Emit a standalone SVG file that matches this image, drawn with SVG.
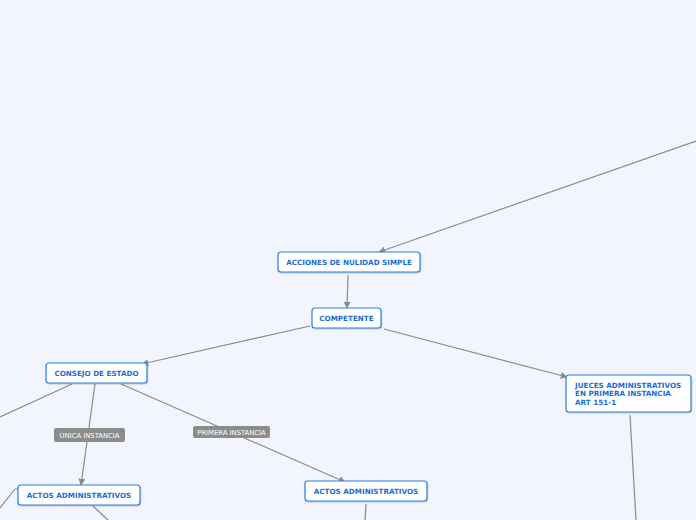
<svg xmlns="http://www.w3.org/2000/svg" width="696" height="520" viewBox="0 0 696 520">
<style>
.bg{fill:#f2f5fe}
.n rect{fill:#fff;stroke:#2b7fe0;stroke-width:1.2}
.n text{font-family:"DejaVu Sans",Verdana,sans-serif;font-weight:bold;font-size:7.2px;fill:#1a6fd4}
.c path{fill:none;stroke:#8a8a92;stroke-width:1.2}
.l rect{fill:#8c8c8c}
.l text{font-family:"DejaVu Sans",Verdana,sans-serif;font-size:6.8px;fill:#fff}
</style>
<defs>
<marker id="a" viewBox="0 0 10 10" refX="9" refY="5" markerWidth="7" markerHeight="7" markerUnits="userSpaceOnUse" orient="auto">
<path d="M0,0L10,5L0,10z" fill="#8a8a92"/>
</marker>
<filter id="s" x="-10%" y="-20%" width="120%" height="150%">
<feDropShadow dx="0.5" dy="1" stdDeviation="0.6" flood-color="#000" flood-opacity="0.2"/>
</filter>
</defs>
<rect class="bg" width="696" height="520"/>
<g class="c">
<path d="M696,141L379,252" marker-end="url(#a)"/>
<path d="M348,275L347,308" marker-end="url(#a)"/>
<path d="M310,326L142,364" marker-end="url(#a)"/>
<path d="M384,329L567,377" marker-end="url(#a)"/>
<path d="M72,384L0,417"/>
<path d="M95,384L81,485" marker-end="url(#a)"/>
<path d="M121,384L345,482" marker-end="url(#a)"/>
<path d="M18,489L15,489L0,508"/>
<path d="M93,506L108,520"/>
<path d="M366,504L365,520"/>
<path d="M630,415L636,520"/>
</g>
<g id="lbl1" class="l"><rect x="54" y="428" width="71" height="14" rx="2"/><text x="89.5" y="438" text-anchor="middle">ÚNICA INSTANCIA</text></g>
<g id="lbl2" class="l"><rect x="193" y="426" width="77" height="12" rx="2"/><text x="231.5" y="435" text-anchor="middle">PRIMERA INSTANCIA</text></g>
<g id="n1" class="n"><rect x="278" y="252" width="142" height="20" rx="3" filter="url(#s)"/><text x="349" y="264.5" text-anchor="middle">ACCIONES DE NULIDAD SIMPLE</text></g>
<g id="n2" class="n"><rect x="312" y="308" width="69" height="20" rx="3" filter="url(#s)"/><text x="346.5" y="320.5" text-anchor="middle">COMPETENTE</text></g>
<g id="n3" class="n"><rect x="46" y="363" width="101" height="20" rx="3" filter="url(#s)"/><text x="96.5" y="375.5" text-anchor="middle">CONSEJO DE ESTADO</text></g>
<g id="n4" class="n"><rect x="566" y="375" width="125" height="37" rx="3" filter="url(#s)"/><text x="575" y="387.5">JUECES ADMINISTRATIVOS</text><text x="575" y="396">EN PRIMERA INSTANCIA</text><text x="575" y="404.5">ART 151-1</text></g>
<g id="n5" class="n"><rect x="18" y="485" width="122" height="20" rx="3" filter="url(#s)"/><text x="79" y="497.5" text-anchor="middle">ACTOS ADMINISTRATIVOS</text></g>
<g id="n6" class="n"><rect x="305" y="481" width="122" height="20" rx="3" filter="url(#s)"/><text x="366" y="493.5" text-anchor="middle">ACTOS ADMINISTRATIVOS</text></g>
</svg>
